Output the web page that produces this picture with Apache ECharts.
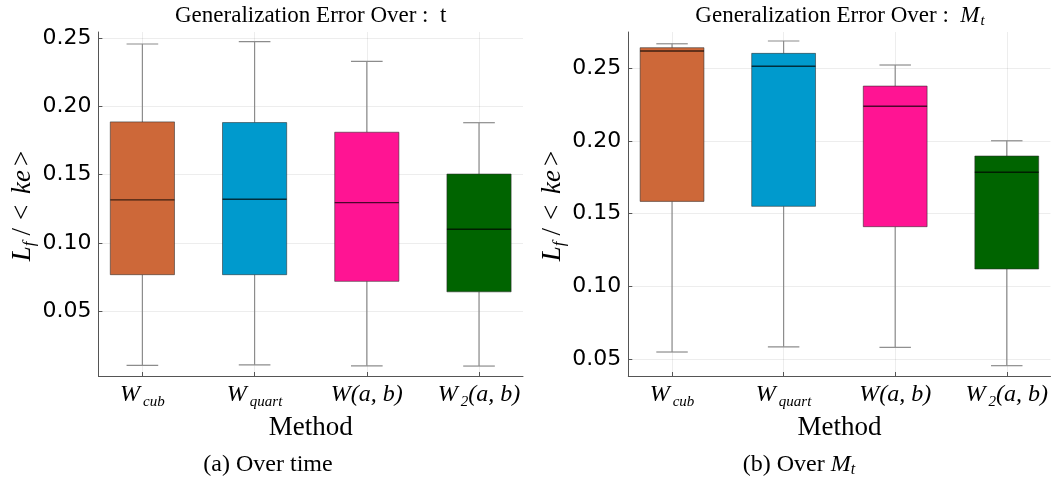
<!DOCTYPE html>
<html>
<head>
<meta charset="utf-8">
<script src="https://cdn.jsdelivr.net/npm/echarts@6/dist/echarts.min.js"></script>
<style>
  html, body { margin: 0; padding: 0; background: #ffffff; }
  #chart { width: 1051px; height: 479px; }
</style>
</head>
<body>
<div id="chart"></div>
<script>
// Methods compared on the horizontal axis (rich-text labels with subscripts)
const methodLabels = [
  '{w|W}{sub|cub}',
  '{w|W}{sub|quart}',
  '{w|W(a, b)}',
  '{w|W}{sub|2}{w|(a, b)}'
];

// Tick values shown on the value axes
const yTicks = [0.05, 0.10, 0.15, 0.20, 0.25];

// Five-number summaries per method: [lower whisker, Q1, median, Q3, upper whisker]
const errorOverTime = [
  [0.0100, 0.0766, 0.1315, 0.1888, 0.2460],
  [0.0103, 0.0766, 0.1320, 0.1883, 0.2478],
  [0.0097, 0.0717, 0.1295, 0.1812, 0.2332],
  [0.0095, 0.0640, 0.1100, 0.1505, 0.1882]
];
const errorOverMt = [
  [0.0549, 0.1585, 0.2619, 0.2642, 0.2669],
  [0.0585, 0.1551, 0.2514, 0.2603, 0.2688],
  [0.0581, 0.1411, 0.2239, 0.2378, 0.2523],
  [0.0455, 0.1120, 0.1785, 0.1897, 0.2002]
];

const boxColors = ['#CD6839', '#009ACD', '#FF1493', '#006400'];

const SERIF = '"Liberation Serif", "DejaVu Serif", serif';
const SANS = '"DejaVu Sans", sans-serif';

// rows for the custom series: [position, lo, q1, median, q3, hi]
function toRows(summaries) {
  return summaries.map((s, i) => [i + 1].concat(s));
}

const BOX_HALF = 0.286;
const CAP_HALF = 0.141;

function renderBox(params, api) {
  const x = api.value(0);
  const lo = api.coord([x, api.value(1)]);
  const q1 = api.coord([x, api.value(2)]);
  const med = api.coord([x, api.value(3)]);
  const q3 = api.coord([x, api.value(4)]);
  const hi = api.coord([x, api.value(5)]);
  const xl = api.coord([x - BOX_HALF, api.value(3)])[0];
  const xr = api.coord([x + BOX_HALF, api.value(3)])[0];
  const cl = api.coord([x - CAP_HALF, api.value(3)])[0];
  const cr = api.coord([x + CAP_HALF, api.value(3)])[0];
  const whisker = { stroke: '#8c8c8c', lineWidth: 1.2 };
  return {
    type: 'group',
    children: [
      { type: 'line', shape: { x1: hi[0], y1: hi[1], x2: q3[0], y2: q3[1] }, style: whisker },
      { type: 'line', shape: { x1: q1[0], y1: q1[1], x2: lo[0], y2: lo[1] }, style: whisker },
      { type: 'line', shape: { x1: cl, y1: hi[1], x2: cr, y2: hi[1] }, style: whisker },
      { type: 'line', shape: { x1: cl, y1: lo[1], x2: cr, y2: lo[1] }, style: whisker },
      {
        type: 'rect',
        shape: { x: xl, y: q3[1], width: xr - xl, height: q1[1] - q3[1] },
        style: { fill: boxColors[params.dataIndex], stroke: 'rgba(40,40,40,0.55)', lineWidth: 1 }
      },
      {
        type: 'line',
        shape: { x1: xl, y1: med[1], x2: xr, y2: med[1] },
        style: { stroke: 'rgba(0,0,0,0.7)', lineWidth: 1.4 }
      }
    ]
  };
}

const axisGrey = '#555555';

function makeXAxis(gridIndex) {
  return {
    type: 'value',
    gridIndex: gridIndex,
    min: 0.608,
    max: 4.392,
    name: 'Method',
    nameLocation: 'middle',
    nameGap: 31,
    nameTextStyle: { fontFamily: SERIF, fontSize: 27, color: '#000' },
    axisLine: { show: true, onZero: false, lineStyle: { color: axisGrey, width: 1 } },
    axisTick: { show: true, inside: true, length: 4, customValues: [1, 2, 3, 4], lineStyle: { color: axisGrey } },
    axisLabel: {
      customValues: [1, 2, 3, 4],
      margin: 3,
      formatter: v => methodLabels[Math.round(v) - 1],
      rich: {
        w: { fontFamily: SERIF, fontStyle: 'italic', fontSize: 24, lineHeight: 31, color: '#000' },
        sub: { fontFamily: SERIF, fontStyle: 'italic', fontSize: 15, lineHeight: 16, color: '#000', padding: [15, 0, 0, 3] }
      }
    },
    splitLine: { show: true, lineStyle: { color: 'rgba(0,0,0,0.07)', width: 1 } }
  };
}

function makeYAxis(gridIndex, min, max, nameGap) {
  return {
    type: 'value',
    gridIndex: gridIndex,
    min: min,
    max: max,
    name: '{i|L}{sub|f}{n|/}{n|<}{i| ke}{n|>}',
    nameLocation: 'middle',
    nameRotate: 90,
    nameGap: nameGap,
    nameTextStyle: {
      rich: {
        i: { fontFamily: SERIF, fontStyle: 'italic', fontSize: 27, color: '#000' },
        sub: { fontFamily: SERIF, fontStyle: 'italic', fontSize: 17, color: '#000', padding: [14, 2, 0, 0] },
        n: { fontFamily: SERIF, fontSize: 27, color: '#000', padding: [0, 4, 0, 4] }
      }
    },
    axisLine: { show: true, onZero: false, lineStyle: { color: axisGrey, width: 1 } },
    axisTick: { show: true, inside: true, length: 4, customValues: yTicks, lineStyle: { color: axisGrey } },
    axisLabel: {
      customValues: yTicks,
      margin: 7,
      fontFamily: SANS,
      fontSize: 22,
      color: '#000',
      formatter: v => v.toFixed(2)
    },
    splitLine: { show: true, lineStyle: { color: 'rgba(0,0,0,0.07)', width: 1 } }
  };
}

const chart = echarts.init(document.getElementById('chart'), null, { renderer: 'canvas' });

chart.setOption({
  animation: false,
  backgroundColor: '#ffffff',
  grid: [
    { left: 98.4, top: 32, width: 424.6, height: 344 },
    { left: 628.3, top: 32, width: 424.7, height: 344 }
  ],
  xAxis: [makeXAxis(0), makeXAxis(1)],
  yAxis: [
    makeYAxis(0, 0.0022, 0.2548, 56),
    makeYAxis(1, 0.0384, 0.2750, 56)
  ],
  series: [
    {
      type: 'custom',
      xAxisIndex: 0,
      yAxisIndex: 0,
      renderItem: renderBox,
      encode: { x: 0, y: [1, 2, 3, 4, 5] },
      data: toRows(errorOverTime),
      clip: false
    },
    {
      type: 'custom',
      xAxisIndex: 1,
      yAxisIndex: 1,
      renderItem: renderBox,
      encode: { x: 0, y: [1, 2, 3, 4, 5] },
      data: toRows(errorOverMt),
      clip: false
    }
  ],
  graphic: [
    {
      type: 'text', x: 310.7, y: 16, silent: true,
      style: {
        text: 'Generalization Error Over :  t',
        align: 'center', verticalAlign: 'middle',
        fontFamily: SERIF, fontSize: 23, fill: '#000'
      }
    },
    {
      type: 'text', x: 840, y: 16, silent: true,
      style: {
        text: '{n|Generalization Error Over :  }{m|M}{s|t}',
        align: 'center', verticalAlign: 'middle',
        rich: {
          n: { fontFamily: SERIF, fontSize: 23, fill: '#000' },
          m: { fontFamily: SERIF, fontStyle: 'italic', fontSize: 23, fill: '#000' },
          s: { fontFamily: SERIF, fontStyle: 'italic', fontSize: 15, fill: '#000', padding: [11, 0, 0, 1] }
        }
      }
    },
    {
      type: 'text', x: 268, y: 465, silent: true,
      style: {
        text: '(a) Over time',
        align: 'center', verticalAlign: 'middle',
        fontFamily: SERIF, fontSize: 24, fill: '#000'
      }
    },
    {
      type: 'text', x: 799, y: 465, silent: true,
      style: {
        text: '{n|(b) Over }{m|M}{s|t}',
        align: 'center', verticalAlign: 'middle',
        rich: {
          n: { fontFamily: SERIF, fontSize: 24, fill: '#000' },
          m: { fontFamily: SERIF, fontStyle: 'italic', fontSize: 24, fill: '#000' },
          s: { fontFamily: SERIF, fontStyle: 'italic', fontSize: 16, fill: '#000', padding: [9, 0, 0, 0] }
        }
      }
    }
  ]
});
</script>
</body>
</html>
